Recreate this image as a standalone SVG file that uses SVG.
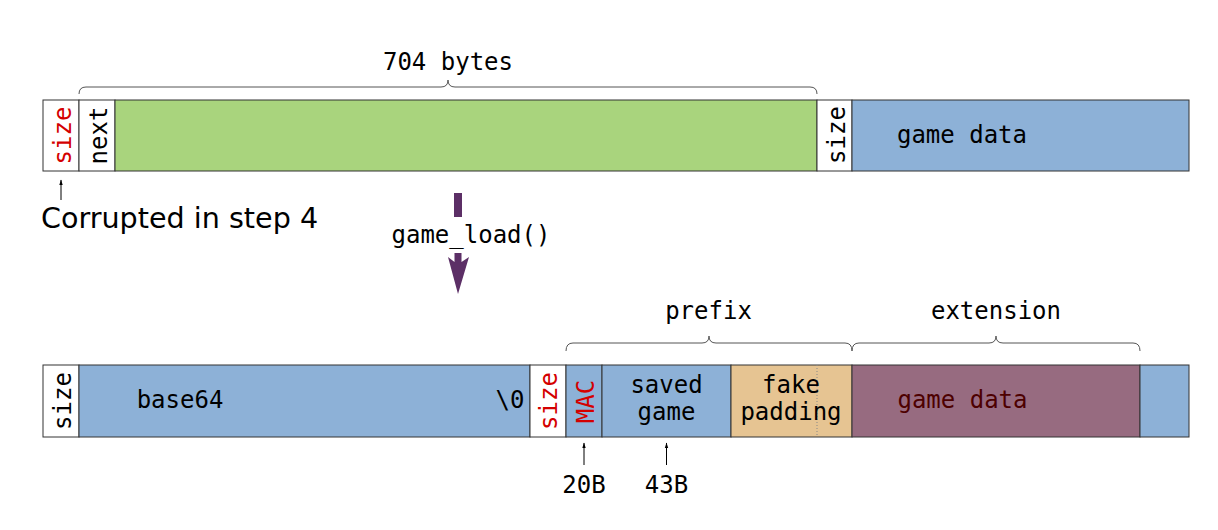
<svg xmlns="http://www.w3.org/2000/svg" width="1218" height="530" viewBox="0 0 1218 530">
<defs>
<style>
.box{stroke:#333;stroke-width:1}
.w{fill:#fff}
.g{fill:#a9d47d}
.b{fill:#8db1d7}
.t{fill:#e6c492}
.p{fill:#976b80}
.m{font-family:"DejaVu Sans Mono","Liberation Mono",monospace;font-size:24px;fill:#000}
.mid{text-anchor:middle}
.red{fill:#d40000}
.brace{fill:none;stroke:#555;stroke-width:1}
.sm{stroke:#000;stroke-width:1;fill:none}
</style>
<marker id="ah" viewBox="0 0 10 10" refX="9" refY="5" markerWidth="6" markerHeight="6" orient="auto">
<path d="M0,2 L10,5 L0,8 z" fill="#000"/>
</marker>
</defs>
<rect width="1218" height="530" fill="#fff"/>

<g id="top-row">
<g id="top-size"><rect class="box w" x="43" y="100" width="36" height="71"/><text class="m mid red" transform="translate(71,135.5) rotate(-90)">size</text></g>
<g id="top-next"><rect class="box w" x="79" y="100" width="36" height="71"/><text class="m mid" transform="translate(107,135.5) rotate(-90)">next</text></g>
<g id="top-green"><rect class="box g" x="115" y="100" width="702" height="71"/></g>
<g id="top-size2"><rect class="box w" x="817" y="100" width="35" height="71"/><text class="m mid" transform="translate(845,135) rotate(-90)">size</text></g>
<g id="top-gamedata"><rect class="box b" x="852" y="100" width="337" height="71"/><text class="m mid" x="962" y="143">game data</text></g>
</g>

<g id="bottom-row">
<g id="bot-size"><rect class="box w" x="43" y="365" width="36" height="72"/><text class="m mid" transform="translate(71,401) rotate(-90)">size</text></g>
<g id="bot-base64"><rect class="box b" x="79" y="365" width="451" height="72"/><text class="m mid" x="180" y="408">base64</text><text class="m mid" x="510" y="408">\0</text></g>
<g id="bot-size2"><rect class="box w" x="530" y="365" width="36" height="72"/><text class="m mid red" transform="translate(557,401) rotate(-90)">size</text></g>
<g id="bot-mac"><rect class="box b" x="566" y="365" width="36" height="72"/><text class="m mid red" transform="translate(594,401.5) rotate(-90)">MAC</text></g>
<g id="bot-saved"><rect class="box b" x="602" y="365" width="129" height="72"/><text class="m mid" x="666.5" y="393">saved</text><text class="m mid" x="666.5" y="420">game</text></g>
<g id="bot-fake"><rect class="box t" x="731" y="365" width="121" height="72"/><line x1="817" y1="365" x2="817" y2="437" stroke="#888" stroke-width="1" stroke-dasharray="1,2"/><text class="m mid" x="791" y="393">fake</text><text class="m mid" x="791" y="420">padding</text></g>
<g id="bot-ext"><rect class="box p" x="852" y="365" width="288" height="72"/><text class="m mid" x="962.5" y="408" style="fill:#4d0000">game data</text></g>
<g id="bot-tail"><rect class="box b" x="1140" y="365" width="49" height="72"/></g>
</g>

<g id="labels">
<text class="m mid" x="448" y="70">704 bytes</text>
<text x="41" y="228" font-family="DejaVu Sans, Liberation Sans, sans-serif" font-size="28.6">Corrupted in step 4</text>
<text class="m mid" x="471" y="243">game_load()</text>
<text class="m mid" x="708.5" y="319">prefix</text>
<text class="m mid" x="996" y="319">extension</text>
<text class="m mid" x="584" y="493">20B</text>
<text class="m mid" x="666.5" y="493">43B</text>
</g>

<g id="connectors">
<path class="brace" d="M79,94 Q79,87 86,87 H441 Q448,87 448,80 Q448,87 455,87 H810 Q817,87 817,94"/>
<path class="brace" d="M566,351 Q566,343 573,343 H702 Q709,343 709,336 Q709,343 716,343 H845 Q852,343 852,351"/>
<path class="brace" d="M852,351 Q852,343 859,343 H989 Q996,343 996,336 Q996,343 1003,343 H1133 Q1140,343 1140,351"/>
<line class="sm" x1="61" y1="200" x2="61" y2="180" marker-end="url(#ah)"/>
<line class="sm" x1="584" y1="465" x2="584" y2="443" marker-end="url(#ah)"/>
<line class="sm" x1="666.5" y1="465" x2="666.5" y2="443" marker-end="url(#ah)"/>
<rect x="454" y="193" width="8" height="24" fill="#5c2f66"/>
<path d="M454.5,253 H461.5 V262 L469,257 L458,294 L448,257 L454.5,262 Z" fill="#5c2f66"/>
</g>
</svg>
